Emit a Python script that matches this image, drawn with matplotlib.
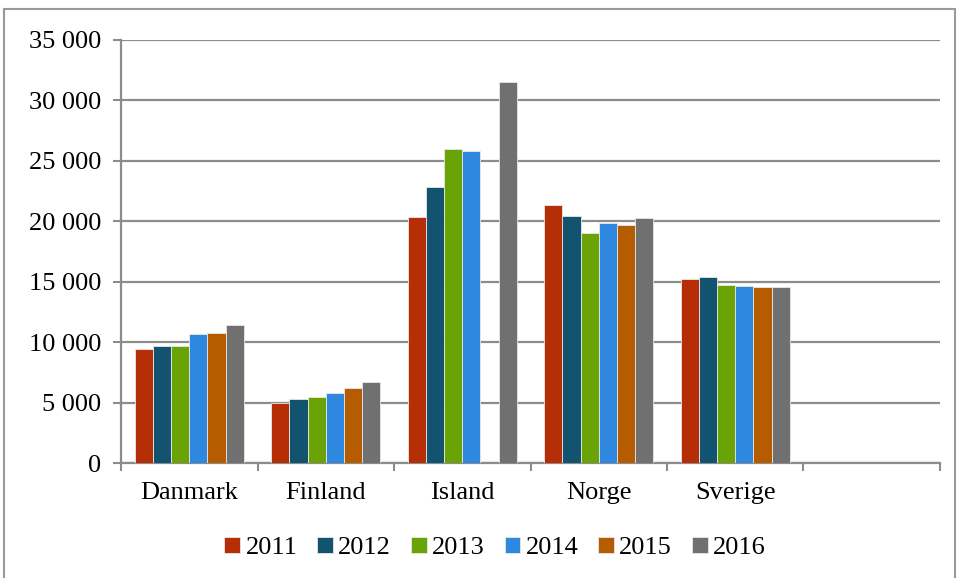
import matplotlib.pyplot as plt
import numpy as np
from matplotlib.patches import Rectangle
from matplotlib.ticker import FuncFormatter

plt.rcParams['font.family'] = ['Liberation Serif', 'DejaVu Serif']

countries = ["Danmark", "Finland", "Island", "Norge", "Sverige", ""]
years = ["2011", "2012", "2013", "2014", "2015", "2016"]
colors = ["#B52E05", "#12546F", "#6AA305", "#2E88E0", "#B55B00", "#707070"]

v2011 = [9450, 4940, 20380, 21320, 15220, np.nan]
v2012 = [9680, 5300, 22840, 20440, 15420, np.nan]
v2013 = [9660, 5460, 25950, 19060, 14730, np.nan]
v2014 = [10670, 5790, 25810, 19830, 14620, np.nan]
v2015 = [10730, 6230, np.nan, 19690, 14560, np.nan]
v2016 = [11420, 6680, 31550, 20300, 14540, np.nan]
series = [v2011, v2012, v2013, v2014, v2015, v2016]

fig = plt.figure(figsize=(9.59, 5.78), dpi=100)
ax = fig.add_axes([121/959, 1-463/578, (940-121)/959, (463-40)/578])

grey = "#8C8C8C"
x = np.arange(len(countries))
w = 0.8 / len(series)
for i, vals in enumerate(series):
    ax.bar(x - 0.4 + w*(i+0.5), vals, width=w, color=colors[i],
           edgecolor="#E8E8E8", linewidth=0.6, label=years[i], zorder=3)

ax.set_xlim(-0.5, 5.5)
ax.set_ylim(0, 35000)
ax.set_yticks(range(0, 35001, 5000))
ax.yaxis.set_major_formatter(FuncFormatter(lambda v, p: f"{int(v):,}".replace(",", " ")))
ax.set_xticks(x)
ax.set_xticklabels(countries)
ax.set_xticks(np.arange(-0.5, 5.6, 1), minor=True)
ax.tick_params(axis="x", which="major", length=0, pad=14, labelsize=19)
ax.tick_params(axis="x", which="minor", length=6, width=1.5, color=grey, direction="out")
ax.tick_params(axis="y", length=6, width=1.5, color=grey, direction="out", labelsize=19, pad=8)

ax.grid(axis="y", color=grey, linewidth=1.6, zorder=0)
ax.set_axisbelow(True)
for s in ["top", "right"]:
    ax.spines[s].set_visible(False)
for s in ["left", "bottom"]:
    ax.spines[s].set_color(grey)
    ax.spines[s].set_linewidth(1.6)

fig.legend(loc="center", bbox_to_anchor=(495/959, 1-548/578), ncol=6, frameon=False,
           fontsize=19, handlelength=0.6, handleheight=0.6, handletextpad=0.2,
           columnspacing=0.75)

fig.patches.append(Rectangle((4/959, -0.01), (955-4)/959, 1-9/578+0.01,
                             transform=fig.transFigure, fill=False,
                             edgecolor="#999999", linewidth=1.5))

fig.savefig("out.png", dpi=100)
